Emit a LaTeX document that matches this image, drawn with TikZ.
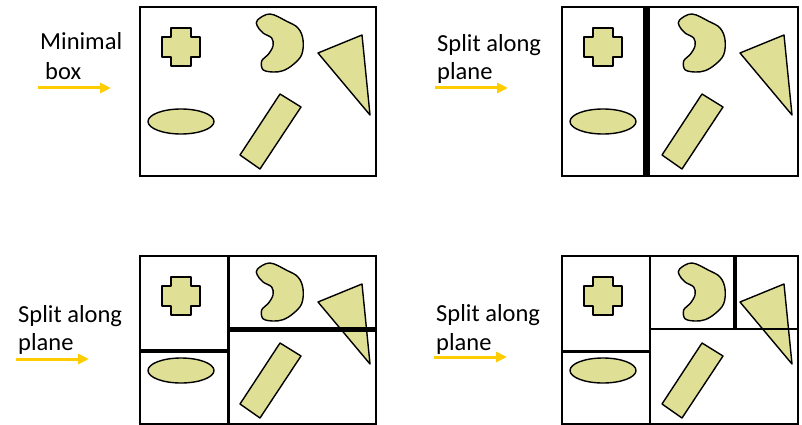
\documentclass[tikz,border=0pt]{standalone}
\usepackage{fontspec}
\setmainfont{Carlito}
\usetikzlibrary{arrows.meta}
\definecolor{fillc}{HTML}{DFDF95}
\definecolor{arrc}{HTML}{FFCC00}
\tikzset{
  obj/.style={draw=black, fill=fillc, line width=1.4pt, line join=round},
  frame/.style={draw=black, line width=2.5pt},
  thin split/.style={draw=black, line width=2.2pt},
  thick split/.style={draw=black, line width=#1},
  lbl/.style={anchor=base west, inner sep=0pt, font=\fontsize{24.5}{30}\selectfont},
  yarrow/.style={draw=arrc, line width=3pt, -{Triangle[length=11pt,width=10pt]}},
  objs/.pic={
    % cross
    \path[obj] (171,28) -- (191,28) -- (191,37) -- (200,37) -- (200,57) -- (191,57)
      -- (191,66) -- (171,66) -- (171,57) -- (162,57) -- (162,37) -- (171,37) -- cycle;
    % blob
    \path[obj] plot[smooth cycle, tension=0.6] coordinates {
      (257.5,20) (270,14) (286.7,21.3) (298,28) (303,39.7) (301.7,54.7) (293,64.7)
      (283,70.7) (273,72) (263,69.7) (261.7,61) (268,54.7) (273,46) (271.7,38)
      (263,33) (257.3,26)};
    % triangle
    \path[obj] (318,53) -- (362,35) -- (370,115) -- cycle;
    % ellipse
    \path[obj] (181,121.5) ellipse[x radius=33, y radius=12.5];
    % rotated rectangle
    \path[obj] (240,155) -- (280,94) -- (301,107) -- (260,169) -- cycle;
  }
}
\begin{document}
\begin{tikzpicture}[x=1pt, y=-1pt]
\useasboundingbox (0,0) rectangle (802,425);
% ---------- panel 1 ----------
\node[lbl] (t1a) at (40,50) {Minimal};
\node[lbl] (t1b) at (45,80) {box};
\coordinate (a1s) at (38,88); \coordinate (a1e) at (111,88);
\draw[yarrow] (a1s) -- (a1e);
\begin{scope}
  \draw[frame] (140,7) rectangle (376,176);
  \pic {objs};
\end{scope}
% ---------- panel 2 ----------
\node[lbl] (t2a) at (437,52) {Split along};
\node[lbl] (t2b) at (437,80) {plane};
\coordinate (a2s) at (435,88); \coordinate (a2e) at (508,88);
\draw[yarrow] (a2s) -- (a2e);
\begin{scope}[shift={(422,0)}]
  \draw[frame] (140,7) rectangle (376,176);
  \pic {objs};
  \draw[thick split=6.5pt] (224.5,7) -- (224.5,176);
\end{scope}
% ---------- panel 3 ----------
\node[lbl] (t3a) at (18,322) {Split along};
\node[lbl] (t3b) at (18,350) {plane};
\coordinate (a3s) at (16,359); \coordinate (a3e) at (89,359);
\draw[yarrow] (a3s) -- (a3e);
\begin{scope}[shift={(0,249)}]
  \draw[frame] (140,7) rectangle (376,175);
  \pic {objs};
  \draw[thin split] (228.5,7) -- (228.5,175);
  \draw[thick split=4.5pt] (140,102) -- (228.5,102);
  \draw[thick split=5pt] (228.5,80.5) -- (376,80.5);
\end{scope}
% ---------- panel 4 ----------
\node[lbl] (t4a) at (436,321) {Split along};
\node[lbl] (t4b) at (436,350) {plane};
\coordinate (a4s) at (434,357); \coordinate (a4e) at (507,357);
\draw[yarrow] (a4s) -- (a4e);
\begin{scope}[shift={(422,249)}]
  \draw[frame] (140,7) rectangle (376,175);
  \pic {objs};
  \draw[thin split] (228,7) -- (228,175);
  \draw[thin split] (140,102.5) -- (228,102.5);
  \draw[thin split] (228,80) -- (376,80);
  \draw[thick split=4pt] (313,7) -- (313,80);
\end{scope}
\end{tikzpicture}
\end{document}
